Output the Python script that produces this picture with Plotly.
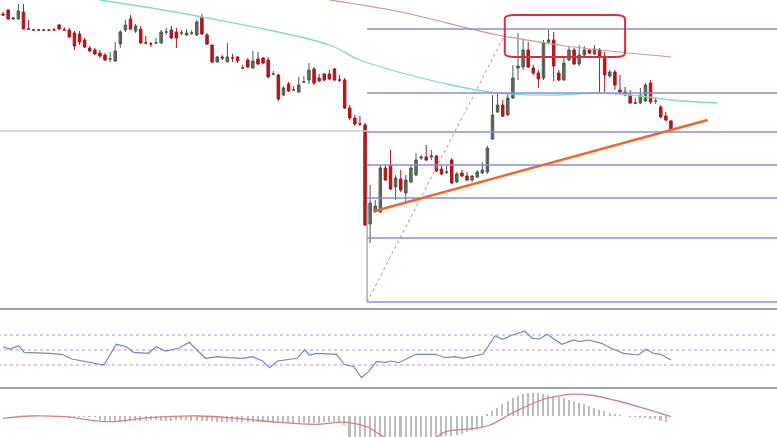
import plotly.graph_objects as go

# price panel values (pixel rows, axis reversed)
opens = [14, 10, 19, 19, 12, 29, 30, 30, 30, 30, 30, 25, 30, 30, 33, 34, 40, 48, 50, 53, 55, 59,
         61, 44, 30, 19, 31, 29, 43, 44, 43, 43, 32, 30, 32, 33, 35, 33, 35, 17, 35, 45, 62, 57,
         62, 58, 57, 68, 60, 68, 59, 58, 60, 74, 75, 95, 84, 90, 92, 82, 80, 69, 78, 74, 74, 69,
         80, 80, 108, 118, 124, 125,
         224, 212, 212, 168, 165, 187, 179, 193, 182, 175, 158, 157, 157, 156, 169, 172, 160, 182,
         173, 176, 180, 177, 173, 172, 139, 112, 105, 115, 98, 68, 67, 50, 68, 73, 78, 42, 40, 73,
         80, 60, 50, 64, 55, 50, 54, 50, 56, 76, 72, 90, 92, 95, 103, 103, 101, 83, 101, 107, 116,
         121]
closes = [15, 19, 18, 11, 29, 29, 30, 30, 30, 30, 30, 29, 30, 37, 46, 42, 47, 51, 54, 56, 60, 59,
          51, 32, 25, 29, 26, 43, 43, 44, 43, 32, 32, 38, 38, 33, 33, 33, 22, 34, 44, 62, 57, 58,
          57, 58, 61, 68, 67, 61, 64, 63, 77, 74, 99, 88, 91, 90, 85, 82, 70, 83, 81, 80, 79, 80,
          80, 108, 118, 124, 124, 225,
          203, 206, 168, 180, 189, 178, 190, 180, 168, 160, 157, 160, 156, 171, 174, 172, 183, 174,
          176, 180, 176, 172, 170, 148, 115, 105, 116, 98, 78, 66, 50, 67, 73, 79, 43, 40, 66, 80,
          63, 50, 64, 55, 50, 53, 49, 56, 75, 72, 85, 92, 95, 103, 103, 95, 85, 102, 101, 117, 120,
          130]
highs = [12, 9, 17, 4, 4, 20, 29, 29, 29, 29, 28, 24, 27, 28, 31, 31, 38, 46, 48, 50, 53, 52,
         42, 30, 20, 15, 24, 26, 36, 42, 38, 30, 28, 26, 28, 30, 29, 30, 20, 14, 33, 45, 56, 55,
         43, 54, 56, 65, 58, 51, 52, 57, 57, 71, 74, 86, 82, 86, 77, 76, 63, 67, 74, 73, 70, 68,
         75, 78, 105, 115, 116, 123,
         185, 200, 165, 165, 150, 175, 170, 175, 165, 153, 155, 145, 150, 155, 165, 166, 158, 172,
         170, 172, 175, 170, 162, 146, 95, 94, 100, 94, 65, 33, 40, 42, 65, 70, 40, 30, 32, 70,
         58, 47, 48, 45, 46, 49, 45, 48, 52, 70, 70, 75, 87, 90, 98, 88, 83, 80, 97, 105, 112,
         120]
lows = [16, 20, 20, 20, 29, 30, 30, 30, 30, 30, 30, 30, 31, 38, 50, 45, 48, 52, 55, 58, 61, 62,
        62, 48, 32, 30, 33, 44, 44, 47, 44, 44, 35, 39, 48, 35, 36, 35, 36, 35, 45, 63, 63, 60,
        62, 62, 63, 69, 68, 69, 65, 64, 78, 75, 101, 96, 92, 91, 93, 83, 84, 85, 82, 81, 80, 81,
        82, 109, 120, 126, 126, 226,
        243, 212, 213, 181, 190, 200, 192, 203, 183, 176, 160, 161, 160, 172, 175, 174, 184, 183,
        177, 181, 182, 178, 174, 174, 140, 113, 117, 116, 99, 80, 70, 68, 75, 88, 80, 44, 81, 81,
        81, 61, 65, 66, 56, 54, 55, 92, 92, 78, 90, 93, 96, 104, 104, 104, 102, 104, 104, 118, 121,
        131]

ma_fast_x = [19, 37, 64, 70, 88, 97, 109, 117, 125, 131, 140]
ma_fast_y = [0, 15, 45, 60, 85, 93, 95, 93, 96, 100, 103]
ma_slow_x = [64, 78, 97, 109, 117, 131]
ma_slow_y = [0, 12, 35, 45, 50, 57]

fib_levels = [29, 93, 132, 165, 198, 238, 302]

rsi_x = [0, 1.3, 3.1, 4.1, 9.1, 11.5, 13.5, 15.4, 19.8, 22.2, 24.2, 25.6, 28.5, 30, 31.9, 34.4,
         36.5, 39.7, 42.1, 44.1, 47, 48.9, 50.9, 52.3, 53.8, 57.7, 59.1, 60.1, 61.5, 65.4, 66.9,
         68.8, 70.3, 71.7, 73.2, 75.1, 76.1, 77.6, 81, 84.8, 86.8, 88.7, 90.2, 94.1, 96.5, 98,
         99.9, 102.3, 103.8, 105.2, 106.7, 109.6, 112, 113, 114.9, 117.4, 119.3, 121.7, 124.6,
         126.1, 127.6, 129, 131]
rsi_y = [346.7, 349, 345.7, 352.3, 353.3, 354.3, 359, 361, 365, 344.3, 346.7, 352.3, 353.3, 346.7,
         351, 348.3, 342.3, 358.3, 356.7, 357.7, 358.3, 356.7, 361, 367.7, 361, 358.3, 350, 355,
         353.3, 354.3, 364.3, 366.7, 377.7, 371.7, 361.7, 362.3, 361, 362.7, 354.3, 354.3, 357.7,
         356.7, 358.3, 354.3, 335.7, 339.3, 335, 331, 338.3, 339, 334.3, 344.3, 340, 341.7, 340,
         343.3, 348.3, 353.3, 355, 349.3, 353.3, 354.3, 360]
rsi_levels = [335, 350, 365]

macd_hist = [0, 0, 0, 0, 0, 0, 0, 0, 0, 0, -1, -1, -1, -1, -1, -1, -1, -1, -1,
             -4, -5, -5, -5, -6, -6, -5, -5, -5, -5, -4, -4, -5, -5, -5, -4, -4, -4, -5, -5, -5,
             -5, -5, -6, -6, -6, -6, -6, -6, -6, -6, -6, -6, -6, -6,
             -7, -7, -7, -7, -7, -7, -7, -7, -7, -6, -6, -6, -7, -9,
             -25, -26, -28, -28, -27, -26, -25, -25, -24, -24, -24, -23, -23, -22, -22, -22, -21,
             -21, -21, -20, -20, -19, -18, -16, -15, -13, -12,
             2, 5, 8, 12, 15, 18, 20, 22, 23, 23, 23, 22, 21, 20, 19, 18, 16, 15, 13, 12, 10, 8, 6,
             5, 3, 2, 1, 0, -1, -1, -2, -2, -3, -3, -5, -6]
macd_zero = 416
signal_x = [0, 5.2, 12, 20.8, 28.5, 38.2, 46, 53.8, 61.5, 67.4, 71.3, 76.1, 83.9, 86.8, 92.6,
            95.5, 100.4, 106.2, 111, 115, 119.8, 124.6, 131]
signal_y = [418.3, 416, 416.7, 421.7, 417.7, 416, 418.3, 422.3, 424.3, 422.3, 426.7, 440, 440,
            431.7, 428.3, 425, 411.7, 399, 394.3, 395, 400, 406.7, 416.7]

idx = list(range(len(opens)))

fig = go.Figure()
fig.add_trace(go.Bar(x=idx, y=[-h for h in macd_hist], base=macd_zero, yaxis="y3",
                     marker=dict(color="#bdbdbd", line=dict(width=0)), width=0.3))
fig.add_trace(go.Scatter(x=signal_x, y=signal_y, yaxis="y3", mode="lines",
                         line=dict(color="#d98080", width=1.3, shape="spline")))
for lv in rsi_levels:
    fig.add_trace(go.Scatter(x=[-1, 153], y=[lv, lv], yaxis="y2", mode="lines",
                             line=dict(color="#c58fd8", width=1, dash="dot")))
fig.add_trace(go.Scatter(x=rsi_x, y=rsi_y, yaxis="y2", mode="lines",
                         line=dict(color="#7f7fd0", width=1.2)))

fig.add_trace(go.Scatter(x=ma_fast_x, y=ma_fast_y, mode="lines",
                         line=dict(color="#7fdcc4", width=1.3, shape="spline")))
fig.add_trace(go.Scatter(x=ma_slow_x, y=ma_slow_y, mode="lines",
                         line=dict(color="#c99a8e", width=1.2, shape="spline")))
# reversed axis: "increasing" in pixel rows is a falling bar
fig.add_trace(go.Candlestick(x=idx, open=opens, close=closes, high=highs, low=lows,
                             increasing=dict(fillcolor="#b3151d", line=dict(color="#b3151d", width=1)),
                             decreasing=dict(fillcolor="#9fb59c", line=dict(color="#4d5a4d", width=1)),
                             whiskerwidth=0))

shapes = []
for lv in fib_levels:
    shapes.append(dict(type="line", x0=71.4, x1=153, y0=lv, y1=lv, xref="x", yref="y",
                       line=dict(color="#8a8ae8", width=1.5)))
shapes += [
    dict(type="line", x0=-1, x1=71.4, y0=131, y1=131, xref="x", yref="y",
         line=dict(color="#c8cccc", width=1.5)),
    dict(type="line", x0=71.4, x1=71.4, y0=205, y1=302, xref="x", yref="y",
         line=dict(color="#9a9a9a", width=1.2)),
    dict(type="line", x0=71.4, x1=98.4, y0=302, y1=35, xref="x", yref="y",
         line=dict(color="#e08080", width=1, dash="dot")),
    dict(type="line", x0=72.9, x1=138.2, y0=211, y1=120, xref="x", yref="y",
         line=dict(color="#f0662a", width=2.5)),
    dict(type="path", xref="x", yref="y", line=dict(color="#d8303a", width=2),
         path="M 100.4,15 L 120,15 Q 122,15 122,19 L 122,53 Q 122,57 120,57 L 100.4,57 "
              "Q 98.4,57 98.4,53 L 98.4,19 Q 98.4,15 100.4,15 Z"),
    dict(type="line", xref="paper", yref="paper", x0=0, x1=1, y0=1 - 309 / 437, y1=1 - 309 / 437,
         line=dict(color="#a0a0a0", width=2)),
    dict(type="line", xref="paper", yref="paper", x0=0, x1=1, y0=1 - 388 / 437, y1=1 - 388 / 437,
         line=dict(color="#a0a0a0", width=2)),
]

fig.update_layout(
    width=777, height=437, margin=dict(l=0, r=0, t=0, b=0),
    paper_bgcolor="white", plot_bgcolor="white", showlegend=False, shapes=shapes,
    xaxis=dict(range=[-0.6, 151.8], visible=False, rangeslider=dict(visible=False)),
    yaxis=dict(domain=[1 - 308 / 437, 1], range=[308, 0], visible=False),
    yaxis2=dict(domain=[1 - 388 / 437, 1 - 310 / 437], range=[388, 310], visible=False),
    yaxis3=dict(domain=[0, 1 - 389 / 437], range=[437, 389], visible=False),
    bargap=0,
)
fig.write_html("out.html", config={"displayModeBar": False},
               post_script="document.body.style.margin='0';document.body.style.overflow='hidden';")
